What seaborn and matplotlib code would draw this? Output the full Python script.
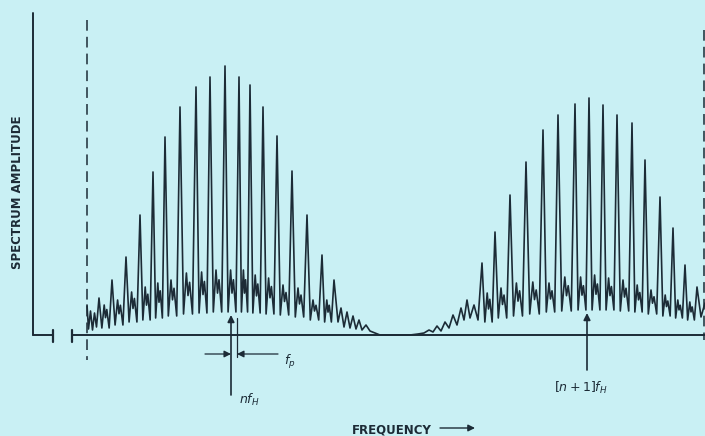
import numpy as np
import pandas as pd
import matplotlib
matplotlib.use("Agg")
import matplotlib.pyplot as plt
import seaborn as sns

# Valores (frecuencia en px, amplitud sobre la linea base)
lead_freq = [87, 88.5, 90.5, 92.5, 94.5, 96.5]
lead_amp = [30, 6, 24, 5, 22, 8]

left_peak_freq = [99, 112, 126, 140, 153, 165, 180, 196, 210, 225, 239, 250, 263, 277, 292, 307, 322, 334]
left_peak_amp = [37, 55, 78, 120, 163, 198, 228, 248, 258, 269, 258, 250, 228, 199, 164, 120, 80, 55]
left_mid_amp = [30, 35, 43, 48, 52, 55, 62, 63, 65, 65, 65, 60, 57, 50, 47, 35, 35]
left_floor_amp = [7, 10, 13, 15, 17, 19, 21, 22, 23, 23, 23, 22, 21, 20, 18, 15, 13]

gap_freq = [338, 341, 344, 347, 350, 353, 356, 359, 362, 366, 370, 375, 380, 395, 410,
            418, 424, 429, 433, 437, 441, 445, 449, 453, 457, 461, 464, 467, 470, 474, 478]
gap_amp = [13, 27, 8, 23, 7, 19, 6, 15, 5, 10, 4, 2, 0, 0, 0,
           1, 2, 5, 3, 9, 4, 13, 7, 20, 10, 27, 15, 35, 17, 30, 15]

right_peak_freq = [482, 495, 510, 526, 543, 558, 575, 589, 603, 617, 632, 645, 660, 673, 685, 697]
right_peak_amp = [72, 103, 140, 173, 205, 220, 231, 237, 230, 220, 212, 175, 138, 107, 70, 48]
right_mid_amp = [42, 47, 52, 53, 52, 58, 58, 60, 57, 55, 50, 45, 40, 35, 33]
right_floor_amp = [13, 17, 19, 21, 23, 24, 25, 25, 25, 24, 23, 21, 19, 17, 15]

tail_freq = [701, 705]
tail_amp = [18, 32]

ink = "#1c2b36"
paper = "#c9f0f4"


def cluster(peaks, amps, mids, floors):
    # pico alto, valle, doble pico medio, valle
    fx, fy = [], []
    for i in range(len(peaks)):
        fx.append(peaks[i])
        fy.append(amps[i])
        if i < len(peaks) - 1:
            d = peaks[i + 1] - peaks[i]
            fx += [peaks[i] + f * d for f in (0.22, 0.4, 0.5, 0.6, 0.78)]
            fy += [floors[i], mids[i], floors[i] + 0.45 * (mids[i] - floors[i]),
                   0.85 * mids[i], floors[i]]
    return fx, fy


lx, ly = cluster(left_peak_freq, left_peak_amp, left_mid_amp, left_floor_amp)
rx, ry = cluster(right_peak_freq, right_peak_amp, right_mid_amp, right_floor_amp)
df = pd.DataFrame({
    "freq": lead_freq + lx + gap_freq + rx + tail_freq,
    "amp": lead_amp + ly + gap_amp + ry + tail_amp,
})

sns.set_style("white")
fig = plt.figure(figsize=(7.05, 4.36), dpi=100)
fig.patch.set_facecolor(paper)
ax = fig.add_axes([0, 0, 1, 1])
ax.set_facecolor(paper)

sns.lineplot(data=df, x="freq", y="amp", sort=False, color=ink, lw=1.2, ax=ax)

# ejes dibujados a mano (con corte)
ax.plot([33, 33], [322, 0], color=ink, lw=1.4)
ax.plot([33, 53], [0, 0], color=ink, lw=1.4)
ax.plot([53, 53], [5, -7], color=ink, lw=1.6)
ax.plot([72, 72], [5, -7], color=ink, lw=1.6)
ax.plot([72, 705], [0, 0], color=ink, lw=1.4)
ax.plot([87, 87], [315, -25], color=ink, lw=1.1, dashes=(7, 4))
ax.plot([704, 704], [305, -5], color=ink, lw=1.1, dashes=(7, 4))

# flechas y rotulos
arr = dict(arrowstyle="-|>", color=ink, lw=1.2, mutation_scale=10, shrinkA=0, shrinkB=0)
ax.annotate("", xy=(231, 20), xytext=(231, -60), arrowprops=arr)
ax.annotate("", xy=(587, 22), xytext=(587, -35), arrowprops=arr)
ax.plot([237, 237], [17, -22], color=ink, lw=0.9)
ax.annotate("", xy=(231, -19), xytext=(205, -19), arrowprops=dict(arr, lw=0.9))
ax.annotate("", xy=(237, -19), xytext=(278, -19), arrowprops=dict(arr, lw=0.9))
ax.annotate("", xy=(475, -93), xytext=(440, -93), arrowprops=dict(arr, lw=1.0))

ax.text(239, -65, r"$nf_H$", fontsize=9, color=ink, va="center", ha="left")
ax.text(284, -27, r"$f_p$", fontsize=9, color=ink, va="center", ha="left")
ax.text(581, -53, r"$[n+1]f_H$", fontsize=9, color=ink, va="center", ha="center")
ax.text(18, 143, "SPECTRUM AMPLITUDE", rotation=90, fontsize=8.5, fontweight="bold",
        color=ink, va="center", ha="center")
ax.text(352, -95, "FREQUENCY", fontsize=8.5, fontweight="bold", color=ink,
        va="center", ha="left")

ax.set_xlim(0, 705)
ax.set_ylim(-101, 335)
ax.axis("off")

fig.savefig("out.png", dpi=100, facecolor=paper)
